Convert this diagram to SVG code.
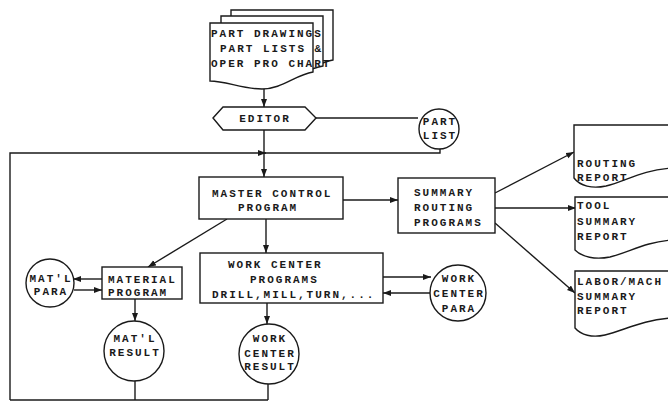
<svg xmlns="http://www.w3.org/2000/svg" width="668" height="402" viewBox="0 0 668 402">
<defs>
<style>
.s{fill:#fff;stroke:#1a1a1a;stroke-width:1.4}
.l{fill:none;stroke:#1a1a1a;stroke-width:1.4}
.a{marker-end:url(#ah)}
text{font-family:"Liberation Mono","DejaVu Sans Mono",monospace;font-size:11px;font-weight:bold;letter-spacing:2px;fill:#1a1a1a}
.c{text-anchor:middle}
</style>
<marker id="ah" markerWidth="9" markerHeight="7" refX="8" refY="3" orient="auto" markerUnits="userSpaceOnUse">
<path d="M0,0 L8,3 L0,6 z" fill="#1a1a1a"/>
</marker>
</defs>
<rect width="668" height="402" fill="#fff"/>

<g id="connectors">
<path class="l a" d="M264,89 V107"/>
<path class="l" d="M316,118 H418"/>
<path class="l a" d="M264,130 V177"/>
<path class="l" d="M440,149 V153 H264"/>
<path class="l a" d="M10,400 V153 H266"/>
<path class="l" d="M10,400 H268"/>
<path class="l a" d="M266,219 V253"/>
<path class="l a" d="M227,219 L148,267"/>
<path class="l a" d="M102,279 H73"/>
<path class="l a" d="M74,290 H102"/>
<path class="l a" d="M383,277 H431"/>
<path class="l a" d="M431,293 H383"/>
<path class="l a" d="M135,299 V321"/>
<path class="l" d="M135,381 V400"/>
<path class="l a" d="M267,303 V324"/>
<path class="l" d="M268,384 V400"/>
<path class="l a" d="M343,200 H398"/>
<path class="l a" d="M495,193 L574,152"/>
<path class="l a" d="M495,208 H576"/>
<path class="l a" d="M495,223 L575,293"/>
</g>

<g id="source-documents">
<path class="s" d="M231,10 H333 V60 C318,63 305,72 290,72 C270,72 250,66 231,66 Z"/>
<path class="s" d="M221,16 H323 V66 C305,69 292,80 275,80 C255,80 238,73 221,73 Z"/>
<path class="s" d="M210,23 H313 V72 C295,75 282,89 262,89 C242,89 226,81 210,81 Z"/>
<text x="211" y="37">PART DRAWINGS</text>
<text x="220" y="52">PART LISTS &amp;</text>
<text x="211" y="67">OPER PRO CHART</text>
</g>

<g id="editor">
<polygon class="s" points="213,118 223,107 305,107 316,118 305,130 223,130"/>
<text class="c" x="265" y="122">EDITOR</text>
</g>

<g id="part-list">
<circle class="s" cx="439" cy="129" r="20"/>
<text class="c" x="440" y="125">PART</text>
<text class="c" x="440" y="139">LIST</text>
</g>

<g id="master-control">
<rect class="s" x="199" y="177" width="144" height="42"/>
<text x="212" y="197">MASTER CONTROL</text>
<text x="238" y="211">PROGRAM</text>
</g>

<g id="summary-routing">
<rect class="s" x="398" y="178" width="97" height="55"/>
<text x="414" y="196">SUMMARY</text>
<text x="414" y="211">ROUTING</text>
<text x="414" y="226">PROGRAMS</text>
</g>

<g id="routing-report">
<path class="s" d="M672,125 H574 V178 C580,186 592,189 606,186 C626,181 642,170 672,168"/>
<text x="577" y="167">ROUTING</text>
<text x="577" y="181">REPORT</text>
</g>

<g id="tool-report">
<path class="s" d="M672,197 H575 V250 C582,257 595,260 610,257 C630,252 645,242 672,240"/>
<text x="577" y="209">TOOL</text>
<text x="577" y="225">SUMMARY</text>
<text x="577" y="240">REPORT</text>
</g>

<g id="labor-report">
<path class="s" d="M672,271 H575 V328 C581,335 592,338 605,335 C625,330 642,320 672,318"/>
<text x="577" y="285">LABOR/MACH</text>
<text x="577" y="300">SUMMARY</text>
<text x="577" y="314">REPORT</text>
</g>

<g id="matl-para">
<circle class="s" cx="50" cy="283" r="24"/>
<text class="c" x="51" y="282">MAT'L</text>
<text class="c" x="51" y="295">PARA</text>
</g>

<g id="material-program">
<rect class="s" x="102" y="267" width="80" height="32"/>
<text x="108" y="283">MATERIAL</text>
<text x="108" y="296">PROGRAM</text>
</g>

<g id="work-center-programs">
<rect class="s" x="200" y="253" width="183" height="50"/>
<text x="228" y="268">WORK CENTER</text>
<text x="250" y="283">PROGRAMS</text>
<text x="212" y="298">DRILL,MILL,TURN,...</text>
</g>

<g id="work-center-para">
<circle class="s" cx="458" cy="293" r="28"/>
<text class="c" x="459" y="282">WORK</text>
<text class="c" x="459" y="297">CENTER</text>
<text class="c" x="459" y="312">PARA</text>
</g>

<g id="matl-result">
<circle class="s" cx="134" cy="351" r="30"/>
<text class="c" x="135" y="342">MAT'L</text>
<text class="c" x="135" y="356">RESULT</text>
</g>

<g id="work-center-result">
<circle class="s" cx="269" cy="354" r="30"/>
<text class="c" x="270" y="342">WORK</text>
<text class="c" x="270" y="357">CENTER</text>
<text class="c" x="270" y="370">RESULT</text>
</g>
</svg>
